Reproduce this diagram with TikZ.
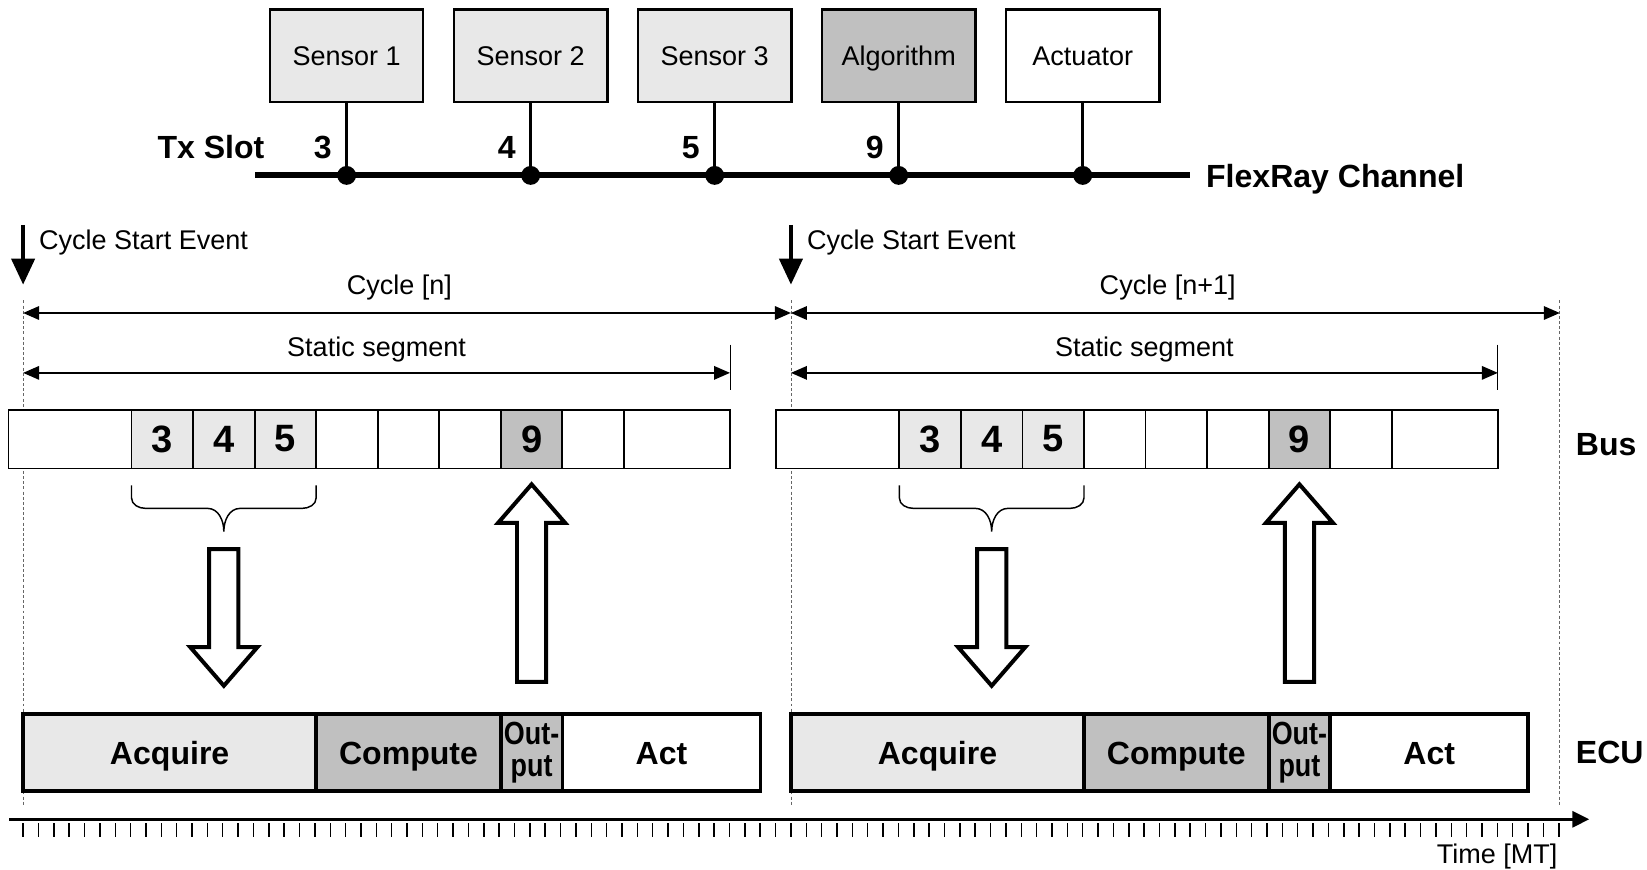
\documentclass[tikz,border=0pt]{standalone}
\usepackage{fontspec}
\setmainfont{Liberation Sans}
\newfontfamily\narrowsans[FakeStretch=0.84]{Liberation Sans}
\usepackage{xcolor}
\usepackage{tikz}
\usetikzlibrary{arrows.meta,positioning,shapes.arrows}
\definecolor{bk10}{HTML}{E8E8E8}
\definecolor{bk25}{HTML}{C0C0C0}
\definecolor{bk60}{HTML}{666666}
\newcommand\regfont{\fontsize{18.3}{22}\selectfont}
\newcommand\labfont{\fontsize{21.7}{26}\selectfont\bfseries}
\newcommand\slotfont{\fontsize{25.8}{30}\selectfont\bfseries}
\newcommand\outfont{\narrowsans\fontsize{21.7}{21.5}\selectfont\bfseries}
\tikzset{
  unitbox/.style={
    rectangle, draw, fill=#1, line width=1.6pt,
    minimum width=3.65cm, minimum height=2.2cm,
    font=\regfont, inner sep=0pt, text height=13.1pt, text depth=0pt
  },
  unitbox/.default=white,
  tap/.style={circle, fill, inner sep=0pt, minimum size=0.45cm},
  channel/.style={line width=4pt},
  drop/.style={line width=2.2pt},
  slotbox/.style={
    rectangle, draw, fill=#1, line width=1.2pt,
    minimum width=1.465cm, minimum height=1.4cm,
    inner sep=0pt, outer sep=0pt, font=\slotfont
  },
  slotbox/.default=white,
  taskbase/.style={
    rectangle, draw, fill=#1, line width=2.5pt,
    minimum height=1.825cm, inner sep=0pt, outer sep=0pt
  },
  taskbase/.default=white,
  taskbox/.style={taskbase=#1, font=\labfont, text height=15.5pt, text depth=0pt},
  taskbox/.default=white,
  outbox/.style={taskbase=bk25, font=\outfont, align=center},
  spanarrow/.style={
    {Triangle[length=0.38cm,width=0.32cm]}-{Triangle[length=0.38cm,width=0.32cm]},
    line width=1.2pt
  },
  startarrow/.style={-{Triangle[length=0.62cm,width=0.55cm]}, line width=2.7pt},
  flowarrow/.style={
    single arrow, draw, fill=white, line width=2.7pt, anchor=tail,
    minimum width=1.5cm, single arrow head extend=0.45cm,
    single arrow tip angle=82, inner sep=0.3cm
  },
  cyclebound/.style={dash pattern=on 2pt off 1.5pt, line width=0.5pt, color=bk60},
  timeaxis/.style={-{Triangle[length=0.4cm,width=0.38cm]}, line width=2pt},
  mtick/.style={line width=1pt},
  txt/.style={font=\regfont, inner sep=0pt},
  lbl/.style={font=\labfont, inner sep=0pt},
  pics/slotbrace/.style={code={
    \draw[line width=1pt] (-2.1975,0) -- (-2.1975,-0.3) to[out=-90,in=180] (-1.86,-0.55)
      -- (-0.39,-0.55) to[out=0,in=90] (0,-1.1) to[out=90,in=180] (0.39,-0.55)
      -- (1.86,-0.55) to[out=0,in=-90] (2.1975,-0.3) -- (2.1975,0);
  }},
}

\begin{document}
\begin{tikzpicture}
  \useasboundingbox (0,0) rectangle (39.2,20.7);

  % Units
  \node[unitbox=bk10] (sen1) at (8.25,19.375) {Sensor 1};
  \node[unitbox=bk10] (sen2) at (12.63,19.375) {Sensor 2};
  \node[unitbox=bk10] (sen3) at (17.01,19.375) {Sensor 3};
  \node[unitbox=bk25] (alg) at (21.39,19.375) {Algorithm};
  \node[unitbox] (actr) at (25.77,19.375) {Actuator};

  % Channel
  \coordinate (chL) at (6.075,16.525);
  \coordinate (chR) at (28.325,16.525);
  \draw[channel] (chL) -- (chR);
  \foreach \u/\s in {sen1/3,sen2/4,sen3/5,alg/9}{
    \node[tap] (tap-\u) at (\u |- chL) {};
    \draw[drop] (\u) -- (tap-\u);
    \node[lbl, anchor=base east] (tx-\u) at ([xshift=-0.35cm,yshift=0.4cm]tap-\u.center) {\s};
  }
  \node[tap] (tap-actr) at (actr |- chL) {};
  \draw[drop] (actr) -- (tap-actr);
  \node[lbl, anchor=base east] (txslot) at (6.3,16.925) {Tx Slot};
  \node[lbl, right=0.375cm of chR, yshift=-0.1cm] (flexray) {FlexRay Channel};

  % Cycle bounds
  \coordinate (c0) at (0.55,13.55);
  \coordinate (c1) at (18.825,13.55);
  \coordinate (c2) at (37.125,13.55);
  \foreach \c in {c0,c1,c2}
    \draw[cyclebound] (\c) -- (\c |- 0,1.5);

  % Cycles
  \foreach \cyc/\off/\cs/\ce/\cl in {n/0/c0/c1/n, m/18.275/c1/c2/n+1}{
    \draw[startarrow] (\cs |- 0,15.35) -- (\cs |- 0,13.925);
    \node[txt, anchor=base west] (cse-\cyc) at (0.925+\off,14.765) {Cycle Start Event};
    \draw[spanarrow] (\cs |- 0,13.25) -- (\ce |- 0,13.25)
      node[txt, pos=0.49, above=0.29cm] (cyc-\cyc) {Cycle [\cl]};

    % bus slots
    \node[slotbox, minimum width=2.93cm] (\cyc-0) at (1.665+\off,10.25) {};
    \foreach \lab/\col [count=\i, remember=\i as \j (initially 0)] in
        {3/bk10,4/bk10,5/bk10,/white,/white,/white,9/bk25,/white}
      \node[slotbox=\col, right=0pt of \cyc-\j] (\cyc-\i) {\lab};
    \node[slotbox, minimum width=2.525cm, right=0pt of \cyc-8] (\cyc-9) {};

    \draw[spanarrow] (\cs |- 0,11.825) -- (\cyc-9.east |- 0,11.825)
      node[txt, midway, above=0.235cm] (seg-\cyc) {Static segment};
    \draw[line width=0.7pt] (\cyc-9.east |- 0,12.5) -- (\cyc-9.east |- 0,11.425);

    % tasks
    \node[taskbox=bk10, minimum width=6.975cm] (acq-\cyc) at (4.0375+\off,2.7875) {Acquire};
    \node[taskbox=bk25, minimum width=4.395cm, right=0pt of acq-\cyc] (cmp-\cyc) {Compute};
    \node[outbox, minimum width=1.465cm, right=0pt of cmp-\cyc] (out-\cyc) {Out-\\put};
    \node[taskbox, minimum width=4.715cm, right=0pt of out-\cyc] (act-\cyc) {Act};

    % data flow
    \pic at (\cyc-2 |- 0,9.15) {slotbrace};
    \node[flowarrow, minimum height=3.25cm, rotate=-90] (dn-\cyc) at (\cyc-2 |- 0,7.675) {};
    \node[flowarrow, minimum height=4.7cm, rotate=90] (up-\cyc) at (\cyc-7 |- 0,4.425) {};
  }

  \node[lbl, anchor=base west] (buslbl) at (37.5,9.85) {Bus};
  \node[lbl, anchor=base west] (eculbl) at (37.5,2.525) {ECU};

  % Time
  \coordinate (t0) at (0.22,1.2);
  \coordinate (t1) at (37.825,1.2);
  \draw[timeaxis] (t0) -- (t1);
  \foreach \k in {0,...,100}
    \draw[mtick] (0.55+\k*0.3655,1.1) -- ++(0,-0.325);
  \node[txt, anchor=base east] (timelbl) at (37.075,0.15) {Time [MT]};
\end{tikzpicture}
\end{document}
